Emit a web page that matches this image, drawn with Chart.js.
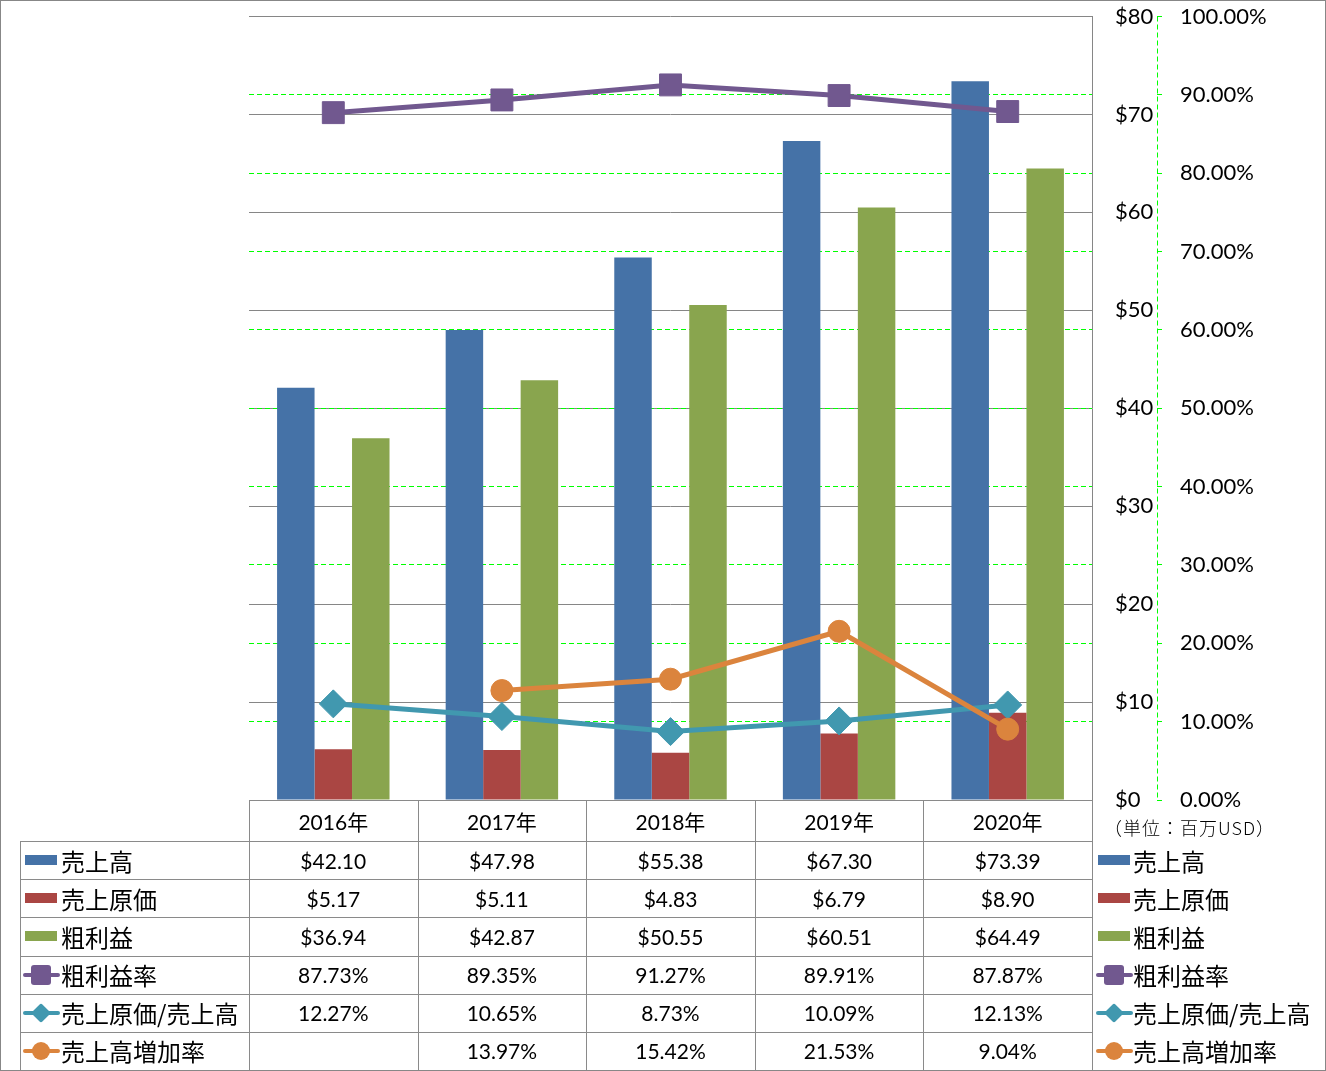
<!DOCTYPE html>
<html><head><meta charset="utf-8">
<script src="https://cdn.jsdelivr.net/npm/chart.js@4/dist/chart.umd.min.js"></script>
<style>
html,body{margin:0;padding:0;background:#fff;}
#wrap{position:relative;width:1326px;height:1071px;overflow:hidden;font-family:Lato,'Noto Sans CJK JP',sans-serif;color:#000;}
#c{position:absolute;left:0;top:0;}
#frame{position:absolute;left:0;top:0;width:1326px;height:1071px;box-sizing:border-box;border:1px solid #878787;pointer-events:none;}
.h{position:absolute;height:1px;background:#8a8a8a;}
.v{position:absolute;width:1px;background:#8a8a8a;}
.cell{position:absolute;font-size:21px;text-align:center;white-space:nowrap;display:flex;align-items:center;justify-content:center;}
.lab{position:absolute;font-size:24px;white-space:nowrap;display:flex;align-items:center;font-family:'Noto Sans CJK JP',sans-serif;}
.key{position:absolute;}
.unit{position:absolute;left:1104px;top:814px;font-size:18px;letter-spacing:1px;font-family:'Noto Sans CJK JP',sans-serif;font-weight:300;white-space:nowrap;}
</style></head>
<body>
<div id="wrap">
<canvas id="c" width="1326" height="1071"></canvas>
<div id="tbl"></div>
<div class="unit">（単位：百万USD）</div>
<div id="frame"></div>
</div>
<script>
// ---- data ----
const categories = ['2016年','2017年','2018年','2019年','2020年'];
const seriesNames = ['売上高','売上原価','粗利益','粗利益率','売上原価/売上高','売上高増加率'];
const sales = [42.10,47.98,55.38,67.30,73.39];
const costOfSales = [5.17,5.11,4.83,6.79,8.90];
const grossProfit = [36.94,42.87,50.55,60.51,64.49];
const grossMargin = [87.73,89.35,91.27,89.91,87.87];
const costRatio = [12.27,10.65,8.73,10.09,12.13];
const salesGrowth = [null,13.97,15.42,21.53,9.04];
const dollarAxis = {min:0,max:80,step:10};
const percentAxis = {min:0,max:100,step:10};

const colors = ['#4572A7','#AA4643','#89A54E','#71588F','#4198AF','#DB843D'];
const GRAY = '#868686', LIME = '#00ff00';

Chart.defaults.font.family = "Lato, 'Noto Sans CJK JP', sans-serif";
Chart.defaults.font.size = 21;
Chart.defaults.color = '#000';

const axisLinePlugin = {
  id:'axisLine',
  afterDraw(chart){
    const s = chart.scales.y1, a = chart.chartArea, ctx = chart.ctx;
    ctx.save();
    ctx.strokeStyle = LIME; ctx.lineWidth = 1; ctx.setLineDash([5,3]);
    ctx.beginPath(); ctx.moveTo(Math.round(s.left)+0.5, a.top); ctx.lineTo(Math.round(s.left)+0.5, a.bottom); ctx.stroke();
    ctx.restore();
  }
};

const barDs = (label, data, color) => ({type:'bar', label, data, backgroundColor:color, borderWidth:0, yAxisID:'y', order:10, categoryPercentage:0.667, barPercentage:1.0});
const lineDs = (label, data, color, style, r, order) => ({type:'line', label, data, borderColor:color, backgroundColor:color, borderWidth:5, pointStyle:style, pointRadius:r, pointHoverRadius:r, pointBorderWidth:1, pointBorderColor:color, pointBackgroundColor:color, tension:0, yAxisID:'y1', order});

new Chart(document.getElementById('c'), {
  data:{
    labels:categories,
    datasets:[
      barDs(seriesNames[0], sales, colors[0]),
      barDs(seriesNames[1], costOfSales, colors[1]),
      barDs(seriesNames[2], grossProfit, colors[2]),
      lineDs(seriesNames[3], grossMargin, colors[3], 'rect', 15.5, 3),
      lineDs(seriesNames[4], costRatio, colors[4], 'rectRot', 14, 2),
      lineDs(seriesNames[5], salesGrowth, colors[5], 'circle', 11, 1)
    ]
  },
  options:{
    responsive:false, animation:false, events:[],
    layout:{padding:{left:249, top:15, bottom:271, right:9}},
    plugins:{legend:{display:false}, tooltip:{enabled:false}},
    scales:{
      x:{display:false, offset:true},
      y:{position:'right', min:dollarAxis.min, max:dollarAxis.max,
         ticks:{stepSize:dollarAxis.step, crossAlign:'near', padding:23, font:{size:22}, callback:v=>'$'+v},
         grid:{color:GRAY, lineWidth:1, drawTicks:false},
         border:{display:true, color:GRAY, width:1},
         afterFit(s){s.width = 65; s.paddingTop = 0; s.paddingBottom = 0;}
      },
      y1:{position:'right', min:percentAxis.min, max:percentAxis.max,
         ticks:{stepSize:percentAxis.step, padding:15, font:{size:22}, callback:v=>Number(v).toFixed(2)+'%'},
         grid:{color:(c)=> (c.index===0 || c.index===10) ? 'rgba(255,255,255,0)' : LIME,
               lineWidth:1, drawTicks:true, tickLength:8, tickColor:LIME, tickBorderDash:[5,3]},
         border:{display:false, dash:[5,3]},
         afterFit(s){s.width = 160; s.paddingTop = 0; s.paddingBottom = 0;}
      }
    }
  },
  plugins:[axisLinePlugin]
});

// ---- data table ----
const L = 249, R = 1092, HT = 800, RT = 841, RH = (1070-841)/6, CW = (R-L)/5;
const fmtD = v => v==null ? '' : '$'+v.toFixed(2);
const fmtP = v => v==null ? '' : v.toFixed(2)+'%';
const rows = [
  {vals:sales, f:fmtD, kind:'bar'},
  {vals:costOfSales, f:fmtD, kind:'bar'},
  {vals:grossProfit, f:fmtD, kind:'bar'},
  {vals:grossMargin, f:fmtP, kind:'rect'},
  {vals:costRatio, f:fmtP, kind:'diamond'},
  {vals:salesGrowth, f:fmtP, kind:'circle'}
];
function keyHtml(kind, color, x, cy){
  if(kind==='bar') return `<div class="key" style="left:${x+2}px;top:${cy-5}px;width:32px;height:10px;background:${color}"></div>`;
  let m = '';
  if(kind==='rect') m = `<div style="position:absolute;left:8px;top:-10px;width:20px;height:20px;border-radius:3px;background:${color}"></div>`;
  if(kind==='diamond') m = `<div style="position:absolute;left:11px;top:-7px;width:14px;height:14px;border-radius:2px;transform:rotate(45deg);background:${color}"></div>`;
  if(kind==='circle') m = `<div style="position:absolute;left:9px;top:-9px;width:18px;height:18px;border-radius:50%;background:${color}"></div>`;
  return `<div class="key" style="left:${x}px;top:${cy}px;width:37px;height:0">
    <div style="position:absolute;left:0;top:-2px;width:37px;height:4px;border-radius:2px;background:${color}"></div>${m}</div>`;
}
let html = '';
html += `<div class="h" style="left:${L}px;top:${HT}px;width:${R-L+1}px"></div>`;
for(let i=0;i<=6;i++){
  const y = Math.round(RT + i*RH);
  html += `<div class="h" style="left:20px;top:${y}px;width:${R-20+1}px"></div>`;
}
for(let j=0;j<=5;j++){
  const x = Math.round(L + j*CW);
  html += `<div class="v" style="left:${x}px;top:${HT}px;height:${1071-HT}px"></div>`;
}
html += `<div class="v" style="left:20px;top:${RT}px;height:${1071-RT}px"></div>`;
categories.forEach((c,j)=>{
  html += `<div class="cell" style="left:${L+j*CW}px;top:${HT}px;width:${CW}px;height:${RT-HT}px">${c}</div>`;
});
rows.forEach((r,i)=>{
  const top = RT + i*RH, cy = Math.round(top + RH/2);
  r.vals.forEach((v,j)=>{
    html += `<div class="cell" style="left:${L+j*CW}px;top:${top}px;width:${CW}px;height:${RH}px">${r.f(v)}</div>`;
  });
  html += keyHtml(r.kind, colors[i], 23, cy);
  html += `<div class="lab" style="left:61px;top:${top}px;height:${RH}px">${seriesNames[i]}</div>`;
  html += keyHtml(r.kind, colors[i], 1096, cy);
  html += `<div class="lab" style="left:1133px;top:${top}px;height:${RH}px">${seriesNames[i]}</div>`;
});
document.getElementById('tbl').innerHTML = html;
</script>
</body></html>
